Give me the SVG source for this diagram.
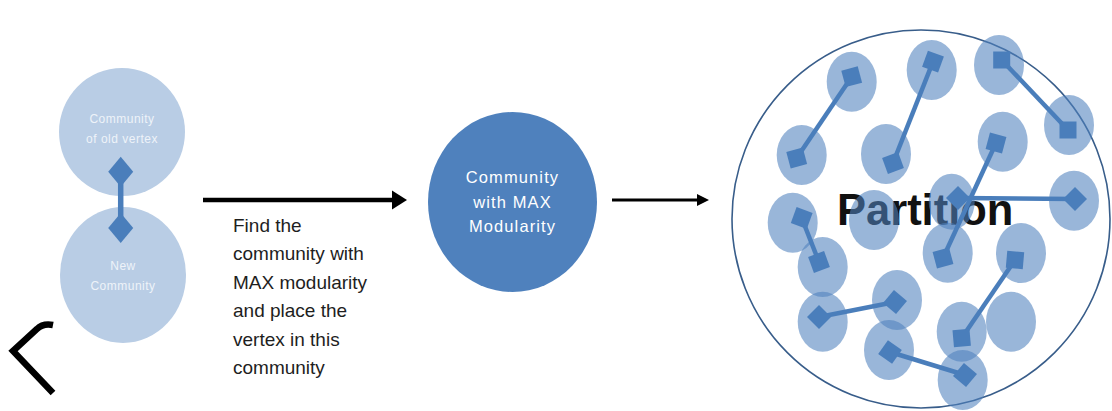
<svg xmlns="http://www.w3.org/2000/svg" xmlns:xlink="http://www.w3.org/1999/xlink" width="1112" height="411" viewBox="0 0 1112 411">
  <style>
    .soft { fill: #b9cde5; }
    .softLabel { font-family: "Liberation Sans", Arial, sans-serif; font-size: 12px; fill: #eef3f9; text-anchor: middle; letter-spacing: 0.5px; }
    .mainLabel { font-family: "Liberation Sans", Arial, sans-serif; font-size: 16.5px; fill: #ffffff; text-anchor: middle; letter-spacing: 1.1px; }
    .note { font-family: "Liberation Sans", Arial, sans-serif; font-size: 19px; fill: #1e1e1e; }
    .member { fill: #4f81bd; fill-opacity: 0.58; }
    .node { fill: #4a7ebb; }
    .edge { stroke: #4a7ebb; stroke-width: 4.5; fill: none; }
    .arrow { stroke: #000; fill: none; }
  </style>
  <defs>
    <rect id="sq" x="-8.5" y="-8.5" width="17" height="17" class="node"/>
    <polygon id="dia" points="0,-15 12.5,0 0,15 -12.5,0" class="node"/>
  </defs>

  <rect width="1112" height="411" fill="#ffffff"/>

  <!-- vertex moving between two communities -->
  <g id="old-community">
    <ellipse class="soft" cx="122" cy="132" rx="63" ry="64"/>
    <text class="softLabel" x="122" y="123">Community</text>
    <text class="softLabel" x="122" y="143">of old vertex</text>
  </g>
  <g id="new-community">
    <ellipse class="soft" cx="123" cy="275" rx="63" ry="68"/>
    <text class="softLabel" x="123" y="270">New</text>
    <text class="softLabel" x="123" y="290">Community</text>
  </g>
  <g id="moved-vertex">
    <line x1="120.7" y1="172" x2="120.7" y2="228" stroke="#4a7ebb" stroke-width="5.5"/>
    <use xlink:href="#dia" transform="translate(120.7,171.7)"/>
    <use xlink:href="#dia" transform="translate(120.7,228)"/>
  </g>

  <!-- back chevron -->
  <path id="back" d="M53,325 Q43,323 37,329 L13,351 L53,393" fill="none" stroke="#000" stroke-width="6.5"/>

  <!-- step description -->
  <g id="step-note">
    <text class="note" x="233" y="231.7">Find the</text>
    <text class="note" x="233" y="260">community with</text>
    <text class="note" x="233" y="288.5">MAX modularity</text>
    <text class="note" x="233" y="317">and place the</text>
    <text class="note" x="233" y="345.5">vertex in this</text>
    <text class="note" x="233" y="374">community</text>
  </g>

  <g id="max-community">
    <ellipse cx="512.5" cy="202" rx="84.5" ry="90" fill="#4f81bd"/>
    <text class="mainLabel" x="512.5" y="183">Community</text>
    <text class="mainLabel" x="512.5" y="207.5">with MAX</text>
    <text class="mainLabel" x="512.5" y="232">Modularity</text>
  </g>

  <g id="connectors">
    <line class="arrow" x1="203" y1="200" x2="395" y2="200" stroke-width="4.5"/>
    <polygon points="392,190.5 407,200 392,209.5" fill="#000"/>
    <line class="arrow" x1="612" y1="200" x2="699" y2="200" stroke-width="2.8"/>
    <polygon points="697,194 709,200 697,206" fill="#000"/>
  </g>

  <!-- resulting partition -->
  <g id="partition">
    <circle cx="921" cy="219" r="189" fill="none" stroke="#385d8a" stroke-width="1.6"/>
    <text x="837" y="225" font-family="'Liberation Sans', Arial, sans-serif" font-weight="bold" font-size="43.5" fill="#111">Partition</text>

    <g id="members">
      <ellipse class="member" cx="851.7" cy="81.7" rx="25" ry="30"/>
      <ellipse class="member" cx="801.7" cy="155" rx="25" ry="30"/>
      <ellipse class="member" cx="931.7" cy="70" rx="25" ry="30"/>
      <ellipse class="member" cx="886" cy="154" rx="25" ry="30"/>
      <ellipse class="member" cx="999" cy="65" rx="25" ry="30"/>
      <ellipse class="member" cx="1069" cy="125" rx="25" ry="30"/>
      <ellipse class="member" cx="1002.7" cy="141.7" rx="25" ry="30"/>
      <ellipse class="member" cx="1074" cy="200.7" rx="25" ry="30"/>
      <ellipse class="member" cx="951.7" cy="201.7" rx="23" ry="28"/>
      <ellipse class="member" cx="792.7" cy="222.7" rx="25" ry="30"/>
      <ellipse class="member" cx="874" cy="220" rx="25" ry="30"/>
      <ellipse class="member" cx="822.7" cy="267" rx="25" ry="30"/>
      <ellipse class="member" cx="947.7" cy="252.7" rx="25" ry="30"/>
      <ellipse class="member" cx="1021" cy="253" rx="25" ry="30"/>
      <ellipse class="member" cx="822.7" cy="321.7" rx="25" ry="30"/>
      <ellipse class="member" cx="897" cy="300" rx="25" ry="30"/>
      <ellipse class="member" cx="961.7" cy="331.7" rx="25" ry="30"/>
      <ellipse class="member" cx="1011" cy="321.7" rx="25" ry="30"/>
      <ellipse class="member" cx="889" cy="350" rx="25" ry="30"/>
      <ellipse class="member" cx="962.7" cy="380" rx="25" ry="30"/>
    </g>

    <g id="links">
      <line class="edge" x1="851.7" y1="76.7" x2="796.7" y2="158"/>
      <line class="edge" x1="933" y1="61.7" x2="893" y2="163"/>
      <line class="edge" x1="1001.7" y1="60" x2="1068" y2="130"/>
      <line class="edge" x1="996" y1="143" x2="943" y2="258"/>
      <line class="edge" x1="958" y1="198" x2="1075" y2="199"/>
      <line class="edge" x1="801.7" y1="218" x2="819" y2="262"/>
      <line class="edge" x1="819" y1="317" x2="895" y2="302"/>
      <line class="edge" x1="890" y1="352" x2="965" y2="375"/>
      <line class="edge" x1="1015" y1="260" x2="961.7" y2="338"/>
    </g>

    <g id="vertices">
      <use xlink:href="#sq" transform="translate(851.7,76.7) rotate(-15)"/>
      <use xlink:href="#sq" transform="translate(796.7,158) rotate(-15)"/>
      <use xlink:href="#sq" transform="translate(933,61.7) rotate(20)"/>
      <use xlink:href="#sq" transform="translate(893,163) rotate(-20)"/>
      <use xlink:href="#sq" transform="translate(1001.7,60) rotate(0)"/>
      <use xlink:href="#sq" transform="translate(1068,130) rotate(0)"/>
      <use xlink:href="#sq" transform="translate(996,143) rotate(15)"/>
      <use xlink:href="#sq" transform="translate(1075,199) rotate(45)"/>
      <use xlink:href="#sq" transform="translate(958,198) rotate(45)"/>
      <use xlink:href="#sq" transform="translate(801.7,218) rotate(20)"/>
      <use xlink:href="#sq" transform="translate(819,262) rotate(-20)"/>
      <use xlink:href="#sq" transform="translate(943,258) rotate(-15)"/>
      <use xlink:href="#sq" transform="translate(1015,260) rotate(5)"/>
      <use xlink:href="#sq" transform="translate(819,317) rotate(45)"/>
      <use xlink:href="#sq" transform="translate(895,302) rotate(40)"/>
      <use xlink:href="#sq" transform="translate(961.7,338) rotate(-5)"/>
      <use xlink:href="#sq" transform="translate(890,352) rotate(35)"/>
      <use xlink:href="#sq" transform="translate(965,375) rotate(40)"/>
    </g>
  </g>
</svg>
